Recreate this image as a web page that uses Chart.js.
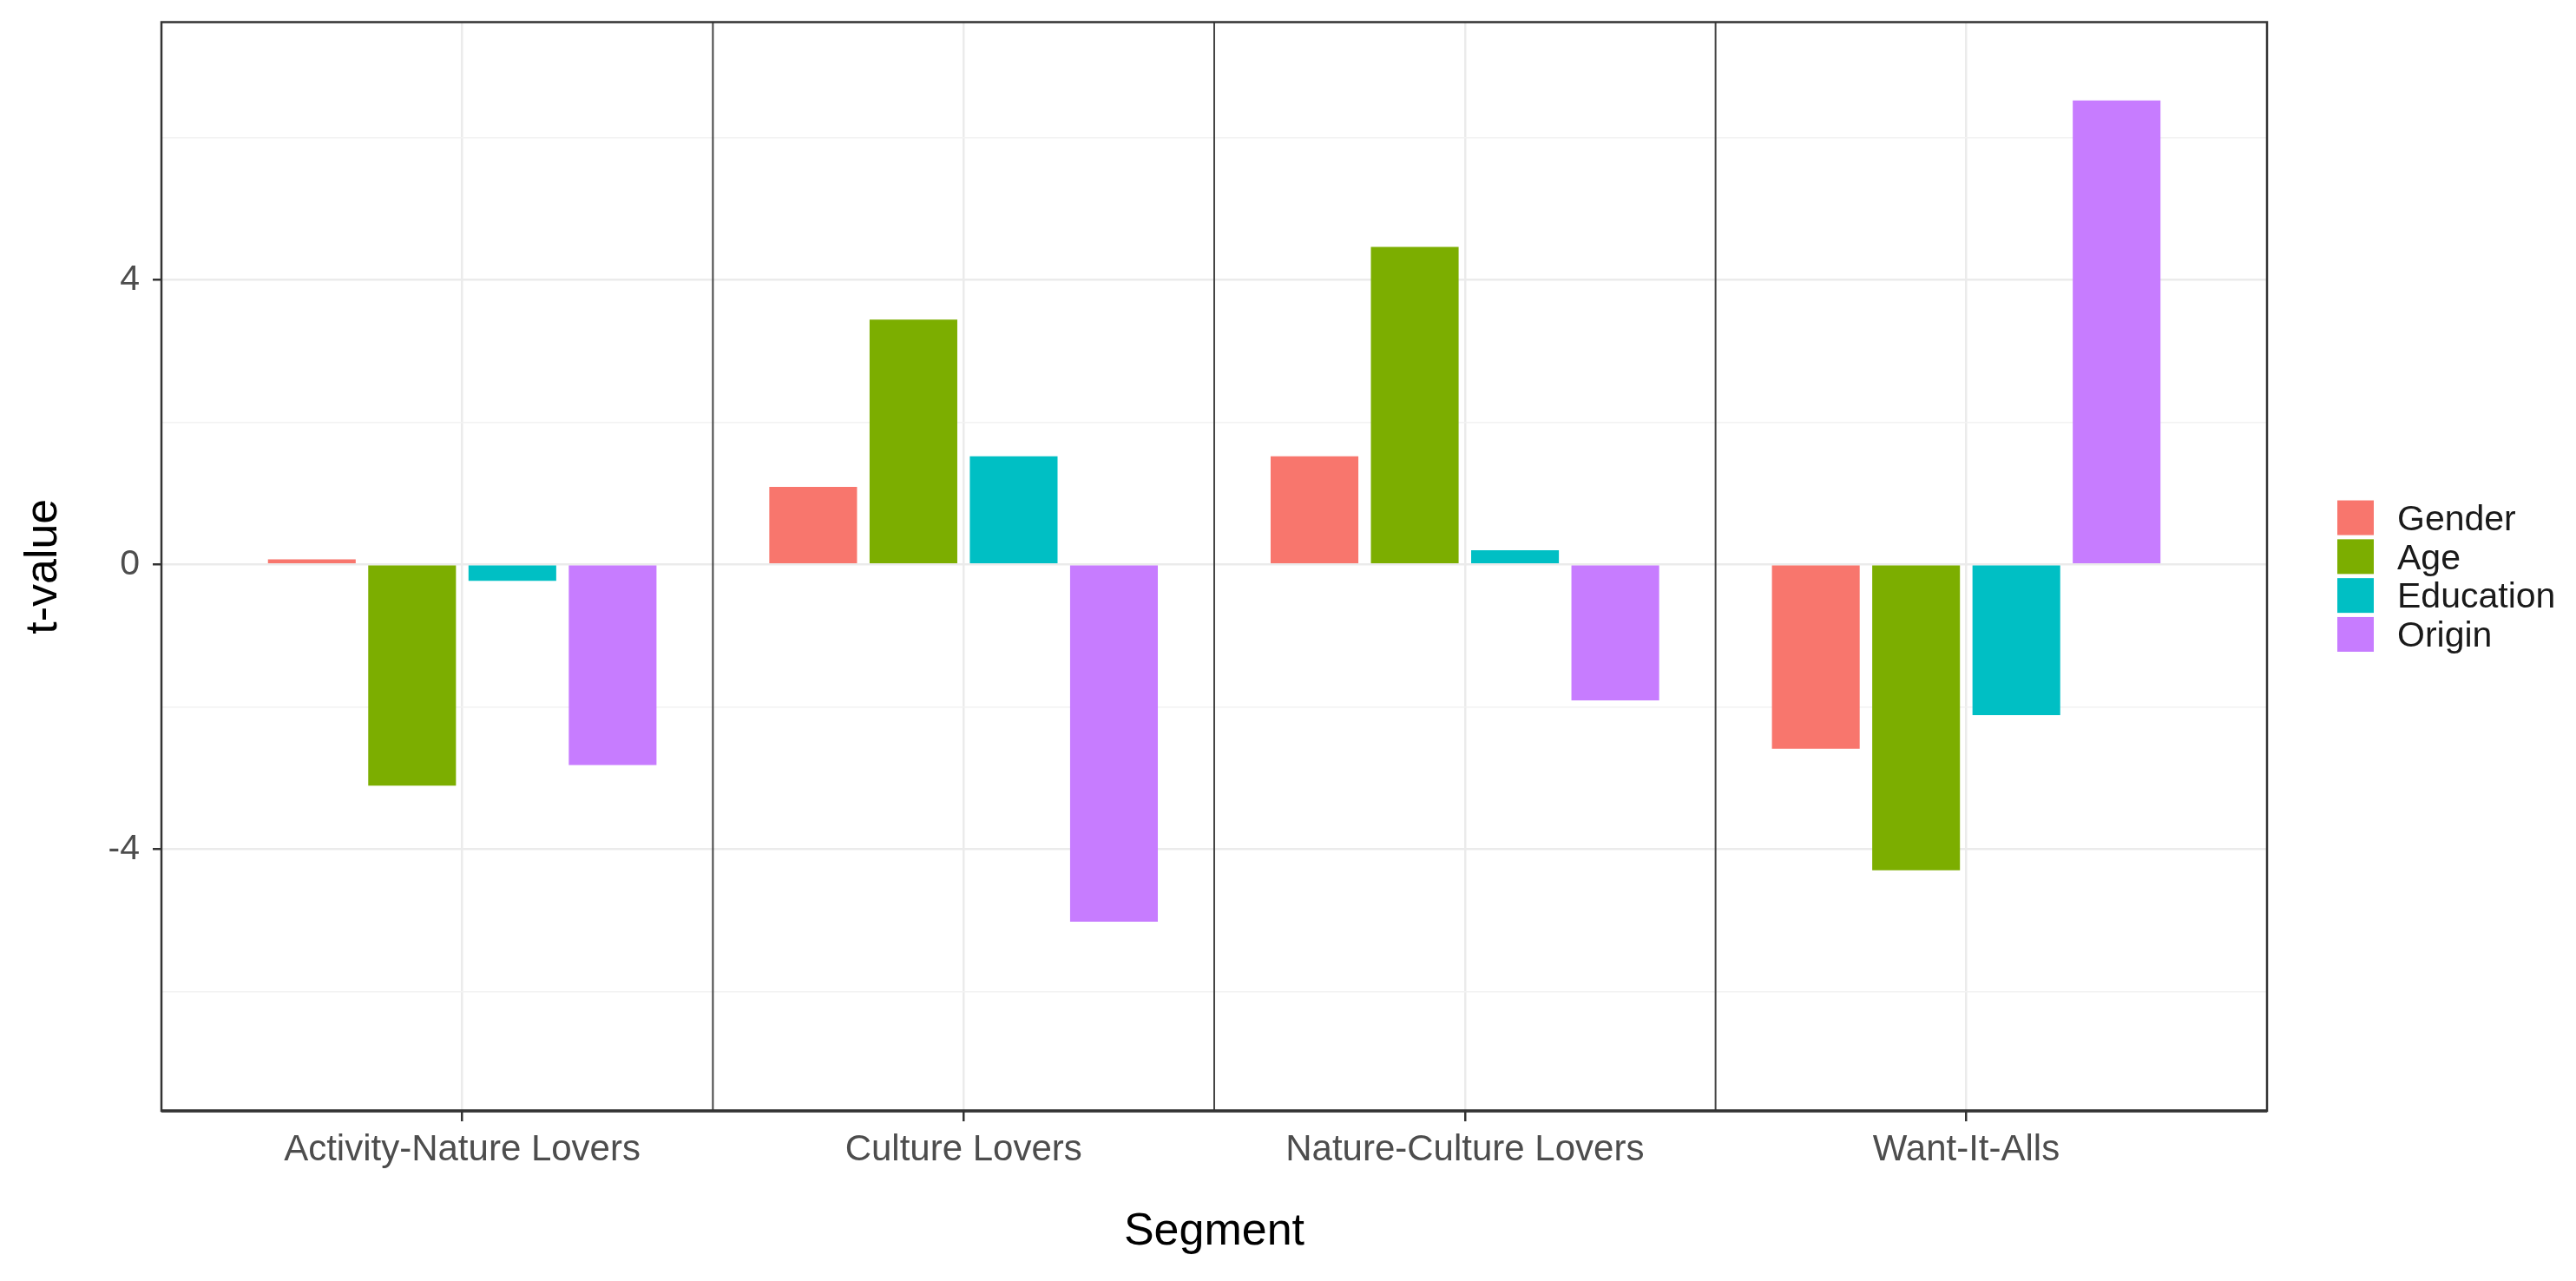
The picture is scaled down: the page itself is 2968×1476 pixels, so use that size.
<!DOCTYPE html>
<html>
<head>
<meta charset="utf-8">
<script src="https://cdn.jsdelivr.net/npm/chart.js@4.4.1/dist/chart.umd.min.js"></script>
<style>
  html, body { margin: 0; padding: 0; background: #fff; }
  #wrap { width: 2968px; height: 1476px; position: relative; }
</style>
</head>
<body>
<div id="wrap"><canvas id="chart"></canvas></div>
<script>
// segments on the x axis
const categories = ['Activity-Nature Lovers', 'Culture Lovers', 'Nature-Culture Lovers', 'Want-It-Alls'];

// t-values per variable, one per segment
const seriesNames = ['Gender', 'Age', 'Education', 'Origin'];
const gender    = [0.07, 1.09, 1.52, -2.59];
const age       = [-3.11, 3.44, 4.46, -4.30];
const education = [-0.23, 1.52, 0.20, -2.12];
const origin    = [-2.82, -5.02, -1.91, 6.52];
const seriesValues = [gender, age, education, origin];
const seriesColors = ['#F8766D', '#7CAE00', '#00BFC4', '#C77CFF'];

// axis range as drawn in the figure
const yMin = -7.68;
const yMax = 7.62;

const FONT = '"Liberation Sans", Arial, sans-serif';
Chart.defaults.font.family = FONT;

const isMajor = (ctx) => ctx.tick && Math.abs(ctx.tick.value % 4) < 1e-9;

// dark vertical separators between segments + panel border
const panelPlugin = {
    id: 'panelFrame',
    beforeDatasetsDraw(chart) {
        const { ctx, chartArea, scales } = chart;
        ctx.save();
        ctx.strokeStyle = '#444444';
        ctx.lineWidth = 2;
        for (let i = 1; i < categories.length; i++) {
            const px = scales.x.getPixelForValue(i + 0.5);
            ctx.beginPath();
            ctx.moveTo(px, chartArea.top);
            ctx.lineTo(px, chartArea.bottom);
            ctx.stroke();
        }
        ctx.restore();
    },
    afterDatasetsDraw(chart) {
        const { ctx, chartArea } = chart;
        ctx.save();
        ctx.strokeStyle = '#333333';
        ctx.lineWidth = 2.5;
        ctx.strokeRect(chartArea.left, chartArea.top, chartArea.right - chartArea.left, chartArea.bottom - chartArea.top);
        ctx.lineWidth = 3.5;
        ctx.beginPath();
        ctx.moveTo(chartArea.left, chartArea.bottom);
        ctx.lineTo(chartArea.right, chartArea.bottom);
        ctx.stroke();
        ctx.restore();
    }
};

// ggplot-style legend with stacked keys on the right
const legendPlugin = {
    id: 'sideLegend',
    afterDraw(chart) {
        const { ctx, chartArea } = chart;
        const boxW = 42, boxH = 40, step = 44.8;
        const x0 = chartArea.right + 81;
        const total = seriesNames.length * step - (step - boxH);
        let y = (chartArea.top + chartArea.bottom) / 2 + 11 - total / 2;
        ctx.save();
        ctx.font = '41px ' + FONT;
        ctx.textBaseline = 'middle';
        ctx.textAlign = 'left';
        seriesNames.forEach((name, i) => {
            ctx.fillStyle = seriesColors[i];
            ctx.fillRect(x0, y, boxW, boxH);
            ctx.fillStyle = '#1a1a1a';
            ctx.fillText(name, x0 + 69, y + boxH / 2 + 3);
            y += step;
        });
        ctx.restore();
    }
};

const datasets = seriesNames.map((name, s) => ({
    label: name,
    data: categories.map((c, i) => ({ x: i + 1, y: seriesValues[s][i] })),
    backgroundColor: seriesColors[s],
    borderWidth: 0,
    categoryPercentage: 0.8,
    barPercentage: 0.875
}));

new Chart(document.getElementById('chart'), {
    type: 'bar',
    data: { datasets },
    plugins: [panelPlugin, legendPlugin],
    options: {
        responsive: true,
        maintainAspectRatio: false,
        animation: false,
        layout: { padding: { top: 25.5, right: 356, bottom: 0, left: 0 } },
        plugins: {
            legend: { display: false },
            tooltip: { enabled: false }
        },
        scales: {
            x: {
                type: 'linear',
                min: 0.4,
                max: 4.6,
                offset: false,
                afterFit: (s) => {
                    s.height = 196;
                    s.paddingLeft = 0;
                    s.paddingRight = 0;
                },
                border: { display: false },
                grid: {
                    offset: false,
                    color: '#ebebeb',
                    lineWidth: 2.5,
                    tickLength: 12,
                    tickColor: '#333333',
                    tickWidth: 2.5
                },
                ticks: {
                    stepSize: 1,
                    includeBounds: false,
                    autoSkip: false,
                    maxRotation: 0,
                    padding: 8,
                    color: '#4d4d4d',
                    font: { size: 42 },
                    callback: (v) => categories[v - 1] ?? ''
                },
                title: {
                    display: true,
                    text: 'Segment',
                    color: '#000000',
                    font: { size: 52 },
                    padding: { top: 0, bottom: 25 }
                }
            },
            y: {
                min: yMin,
                max: yMax,
                afterFit: (s) => {
                    s.width = 186;
                    s.paddingTop = 0;
                    s.paddingBottom = 0;
                },
                border: { display: false },
                grid: {
                    color: (c) => isMajor(c) ? '#ebebeb' : '#f2f2f2',
                    lineWidth: (c) => isMajor(c) ? 2.5 : 1.5,
                    tickLength: 10,
                    tickColor: (c) => isMajor(c) ? '#333333' : 'rgba(0,0,0,0)',
                    tickWidth: 2.5
                },
                ticks: {
                    stepSize: 2,
                    includeBounds: false,
                    padding: 15,
                    color: '#4d4d4d',
                    font: { size: 41 },
                    callback: (v) => (Math.abs(v % 4) < 1e-9 ? String(v) : '')
                },
                title: {
                    display: true,
                    text: 't-value',
                    color: '#000000',
                    font: { size: 52 },
                    padding: { top: 19, bottom: 0 }
                }
            }
        }
    }
});
</script>
</body>
</html>
